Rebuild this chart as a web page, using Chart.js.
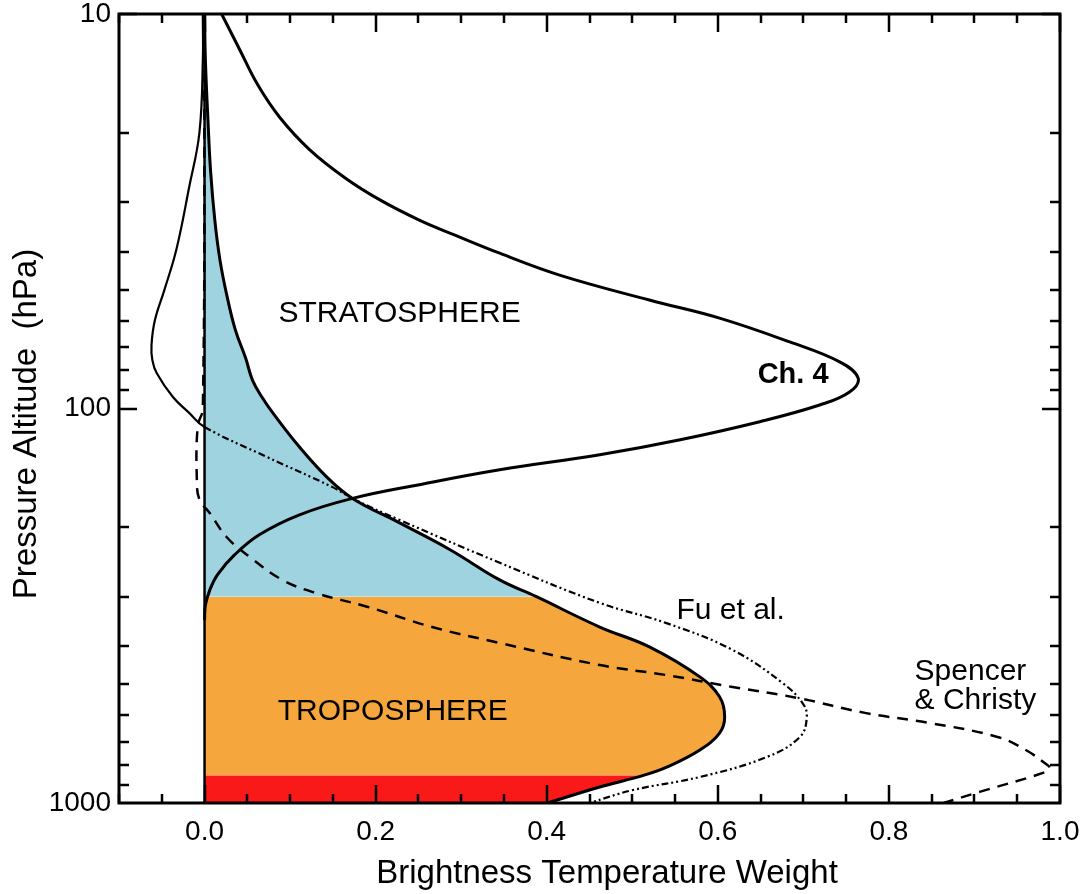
<!DOCTYPE html>
<html>
<head>
<meta charset="utf-8">
<script src="https://cdn.jsdelivr.net/npm/chart.js@4.4.1/dist/chart.umd.min.js"></script>
<style>
html,body{margin:0;padding:0;background:#fff;}
#wrap{width:1087px;height:894px;position:relative;}
</style>
</head>
<body>
<div id="wrap"><canvas id="weights"></canvas></div>
<script>
// axis ticks
var weightTicks=[0.0,0.2,0.4,0.6,0.8,1.0];
var pressureTicks=[10,100,1000];

// MSU channel 4 (lower stratosphere)
var ch4Pressure=[10,12.3,15.1,18.3,22.1,26,29.6,33.3,36.3,40.4,45.9,53.1,59,67.8,76.3,83.7,90.8,98,108,120,131,143,156,169,186,209,235,264,289,315,344];
var ch4Weight=[0.020,0.041,0.062,0.088,0.123,0.164,0.205,0.251,0.292,0.345,0.415,0.520,0.602,0.684,0.743,0.764,0.754,0.719,0.649,0.556,0.462,0.345,0.251,0.173,0.111,0.064,0.035,0.015,0.006,0.001,0.0];

// MSU channel 2 (the filled curve)
var t2Pressure=[10,13.1,18.6,24.9,33.3,42,51.6,63.2,74.5,84.7,93.5,102.7,125.2,149.2,169,195,228,272,300,358,402,479,538,605,665,734,810,850,911,1000];
var t2Weight=[0.0,0.001,0.004,0.007,0.012,0.018,0.026,0.036,0.048,0.056,0.067,0.080,0.111,0.143,0.173,0.228,0.287,0.345,0.388,0.462,0.520,0.579,0.602,0.608,0.602,0.579,0.541,0.514,0.462,0.401];

// Fu et al.
var fuPressure=[10,13.1,20,27.5,39.6,50.1,59.7,69,75.4,81.3,93.5,102.6,111.4,132.7,158,169,191.7,246,311,350,409,497,558,605,680,765,859,927,1000];
var fuWeight=[-0.002,-0.002,-0.006,-0.018,-0.033,-0.047,-0.058,-0.062,-0.061,-0.056,-0.037,-0.018,0.0,0.073,0.149,0.173,0.228,0.345,0.462,0.540,0.617,0.676,0.699,0.704,0.696,0.657,0.579,0.501,0.450];

// Spencer & Christy
var scPressure=[10,100,111,152,170,184,212,238,272,294,318,358,393,447,474,508,542,591,627,680,734,792,815,839,937,1000];
var scWeight=[0.0,-0.002,-0.008,-0.009,-0.006,0.006,0.026,0.053,0.091,0.131,0.190,0.266,0.345,0.462,0.540,0.617,0.694,0.772,0.848,0.927,0.960,0.982,0.988,0.980,0.906,0.864];

// layer bands under channel 2
var bandNames=['stratosphere','troposphere','surface'];
var bandTop=[10,300,850];
var bandBottom=[300,850,1000];
var bandColors=['#9fd3e0','#f5a63c','#f91919'];

var notes=[
  {text:'STRATOSPHERE',x:0.228,p:57.6,align:'center',bold:false},
  {text:'Ch. 4',x:0.688,p:82.2,align:'center',bold:true},
  {text:'Fu et al.',x:0.615,p:326,align:'center',bold:false},
  {text:'Spencer',x:0.830,p:465,align:'left',bold:false},
  {text:'& Christy',x:0.830,p:551,align:'left',bold:false},
  {text:'TROPOSPHERE',x:0.220,p:588,align:'center',bold:false}
];

var FONT='"Liberation Sans", Arial, Helvetica, sans-serif';
Chart.defaults.font.family=FONT;
Chart.defaults.color='#000';

var pts=function(pArr,wArr){
    return pArr.map(function(p,i){return {x:wArr[i],y:p};});
},
band=function(lo,hi){
    var out=[];
    for(var i=0;i<t2Pressure.length;i++){
        if(t2Pressure[i]>=lo && t2Pressure[i]<=hi) out.push({x:t2Weight[i],y:t2Pressure[i]});
    }
    return out;
};

var fuDash=[7,3,2,3,2,3];

var datasets=[
    {label:'Ch. 4',data:pts(ch4Pressure,ch4Weight),borderColor:'#000',borderWidth:3,order:1},
    {label:'Channel 2',data:pts(t2Pressure,t2Weight),borderColor:'#000',borderWidth:3,order:2},
    {label:'Fu et al.',data:pts(fuPressure,fuWeight),borderColor:'#000',borderWidth:2.2,order:3,
        segment:{borderDash:function(c){return c.p0.parsed.y>=111?fuDash:undefined;}}},
    {label:'Spencer & Christy',data:pts(scPressure,scWeight),borderColor:'#000',borderWidth:2.5,borderDash:[11,8],order:4},
    {label:'zero',data:[{x:0,y:10},{x:0,y:1000}],borderColor:'#000',borderWidth:2.5,order:5}
];
bandNames.forEach(function(name,i){
    datasets.push({label:name,data:band(bandTop[i],bandBottom[i]),borderWidth:0,borderColor:'rgba(0,0,0,0)',
        backgroundColor:bandColors[i],fill:{value:0},order:10+i});
});

var frameAndNotes={
    id:'frameAndNotes',
    afterDatasetsDraw:function(chart){
        var ctx=chart.ctx,a=chart.chartArea,xs=chart.scales.x,ys=chart.scales.y;
        ctx.save();
        // annotations
        notes.forEach(function(n){
            ctx.font=(n.bold?'bold 29px ':'30px ')+FONT;
            ctx.fillStyle='#000';
            ctx.textAlign=n.align;
            ctx.textBaseline='middle';
            ctx.fillText(n.text,xs.getPixelForValue(n.x),ys.getPixelForValue(n.p));
        });
        // inward ticks on all four sides
        ctx.strokeStyle='#000';
        ctx.lineWidth=2.5;
        ctx.beginPath();
        for(var k=Math.ceil(xs.min/0.05-1e-6);k*0.05<=xs.max+1e-6;k++){
            var v=k*0.05,px=Math.round(xs.getPixelForValue(v));
            var major=Math.abs(v/0.2-Math.round(v/0.2))<1e-6,len=major?18:9;
            ctx.moveTo(px,a.bottom);ctx.lineTo(px,a.bottom-len);
            ctx.moveTo(px,a.top);ctx.lineTo(px,a.top+len);
        }
        [10,100].forEach(function(d){
            for(var m=1;m<=9;m++){
                var py=Math.round(ys.getPixelForValue(m*d)),len=m===1?18:10;
                ctx.moveTo(a.left,py);ctx.lineTo(a.left+len,py);
                ctx.moveTo(a.right,py);ctx.lineTo(a.right-len,py);
            }
        });
        ctx.stroke();
        // frame
        ctx.lineWidth=3;
        ctx.strokeRect(a.left,a.top,a.right-a.left,a.bottom-a.top);
        // axis titles
        ctx.font='33px '+FONT;
        ctx.textAlign='center';
        ctx.textBaseline='middle';
        ctx.fillText('Brightness Temperature Weight',607,874);
        ctx.translate(27,424);
        ctx.rotate(-Math.PI/2);
        ctx.fillText('Pressure Altitude  (hPa)',0,0);
        ctx.restore();
    }
};

new Chart(document.getElementById('weights'),{
    type:'line',
    data:{datasets:datasets},
    options:{
        indexAxis:'y',
        responsive:true,
        maintainAspectRatio:false,
        animation:false,
        layout:{padding:{top:14,right:27,left:0,bottom:0}},
        elements:{point:{radius:0,hoverRadius:0},line:{tension:0.4}},
        plugins:{legend:{display:false},tooltip:{enabled:false}},
        events:[],
        scales:{
            x:{
                type:'linear',position:'bottom',min:-0.1,max:1.0,
                grid:{display:false,drawTicks:false},border:{display:false},
                ticks:{font:{size:28},padding:12,autoSkip:false,maxRotation:0,
                    callback:function(v){return v.toFixed(1);}},
                afterBuildTicks:function(s){s.ticks=weightTicks.map(function(v){return {value:v};});},
                afterFit:function(s){s.height=91;s.paddingLeft=0;s.paddingRight=0;}
            },
            y:{
                type:'logarithmic',position:'left',min:10,max:1000,reverse:true,
                grid:{display:false,drawTicks:false},border:{display:false},
                ticks:{font:{size:28},padding:8,autoSkip:false,
                    callback:function(v){return String(v);}},
                afterBuildTicks:function(s){s.ticks=pressureTicks.map(function(v){return {value:v};});},
                afterFit:function(s){s.width=119;s.paddingTop=0;s.paddingBottom=0;}
            }
        }
    },
    plugins:[frameAndNotes]
});
</script>
</body>
</html>
